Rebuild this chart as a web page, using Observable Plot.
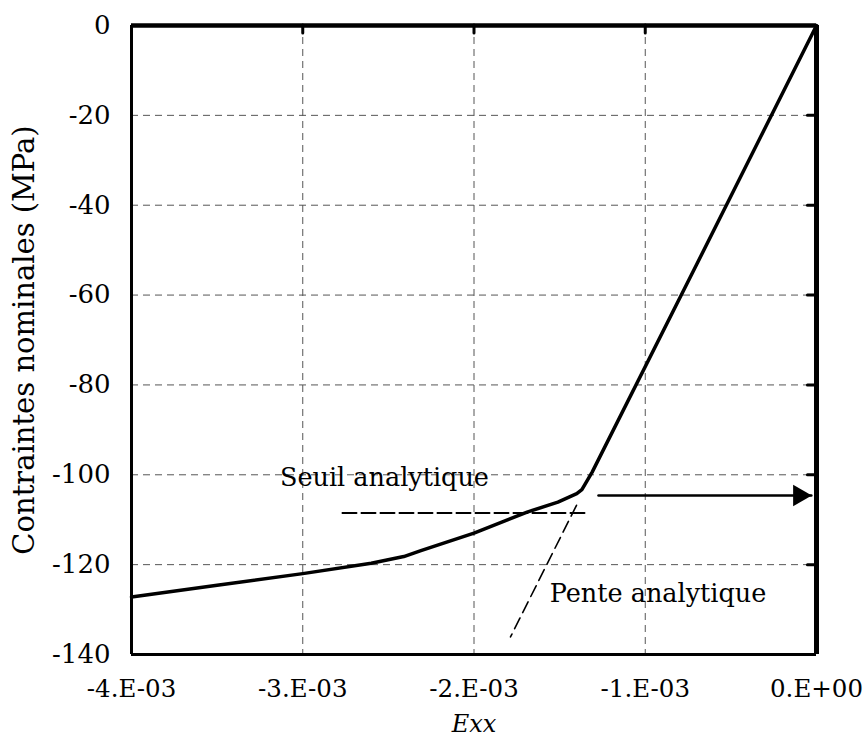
<!DOCTYPE html>
<html><head><meta charset="utf-8">
<script src="https://cdn.jsdelivr.net/npm/d3@7"></script>
<script src="https://cdn.jsdelivr.net/npm/@observablehq/plot@0.6"></script>
<style>body{margin:0;background:#fff}</style>
</head><body><div id="chart"></div>
<script>
// Main curve: strain Exx vs nominal stress (MPa)
const strain = [-0.0040, -0.0035, -0.0030, -0.0026, -0.00241, -0.00231, -0.0020, -0.00169, -0.00151, -0.00140, -0.00137, -0.00131, -0.0007, 0];
const stress = [-127.2, -124.6, -122.0, -119.7, -118.2, -116.9, -113.0, -108.3, -106.1, -104.2, -103.3, -99.4, -53.2, 0];

// Axis ticks
const xTicks = [-0.004, -0.003, -0.002, -0.001, 0];
const xTickLabels = ["-4.E-03", "-3.E-03", "-2.E-03", "-1.E-03", "0.E+00"];
const yTicks = [-140, -120, -100, -80, -60, -40, -20, 0];

// Analytical threshold (horizontal dashed)
const seuilX = [-0.002768, -0.001339];
const seuilY = [-108.5, -108.5];
// Analytical slope (dashed)
const penteX = [-0.0014015, -0.001787];
const penteY = [-106.8, -136.1];
// Arrow
const arrowX = [-0.001273, -0.00003];
const arrowY = [-104.6, -104.6];

// Annotations
const noteLabels = ["Seuil analytique", "Pente analytique"];
const noteX = [-0.002523, -0.0009255];
const noteY = [-100.6, -126.6];

const curve = strain.map((x, i) => ({x, y: stress[i]}));
const seuil = seuilX.map((x, i) => ({x, y: seuilY[i]}));
const pente = penteX.map((x, i) => ({x, y: penteY[i]}));
const arrow = arrowX.map((x, i) => ({x, y: arrowY[i]}));
const notes = noteLabels.map((label, i) => ({label, x: noteX[i], y: noteY[i]}));

const font = "DejaVu Serif";

const chart = Plot.plot({
  width: 863,
  height: 745,
  marginLeft: 131,
  marginRight: 47,
  marginTop: 25,
  marginBottom: 91,
  style: {fontFamily: font, fontSize: "24px", background: "#fff", color: "#000"},
  x: {domain: [-0.004, 0]},
  y: {domain: [-140, 0]},
  marks: [
    Plot.gridX(xTicks, {stroke: "#555", strokeOpacity: 1, strokeWidth: 1, strokeDasharray: "7,5"}),
    Plot.gridY(yTicks, {stroke: "#555", strokeOpacity: 1, strokeWidth: 1, strokeDasharray: "7,5"}),
    Plot.line(seuil, {x: "x", y: "y", stroke: "#000", strokeWidth: 2, strokeDasharray: "14,5"}),
    Plot.line(pente, {x: "x", y: "y", stroke: "#000", strokeWidth: 1.6, strokeDasharray: "12,6"}),
    Plot.line(curve, {x: "x", y: "y", stroke: "#000", strokeWidth: 3.5, strokeLinejoin: "round"}),
    Plot.line(arrow, {x: "x", y: "y", stroke: "#000", strokeWidth: 2.5}),
    Plot.dot([arrow[arrow.length - 1]], {x: "x", y: "y", symbol: "triangle", rotate: 90, r: 8, fill: "#000", stroke: "none", dx: -12}),
    // frame
    Plot.ruleX([-0.004], {stroke: "#000", strokeWidth: 3}),
    Plot.ruleY([-140], {stroke: "#000", strokeWidth: 3}),
    Plot.ruleY([0], {stroke: "#000", strokeWidth: 4.5}),
    Plot.ruleX([0], {stroke: "#000", strokeWidth: 5}),
    // inner ticks on top and right
    Plot.ruleX(xTicks.slice(1, -1), {y1: 0, y2: -1.8, stroke: "#000", strokeWidth: 3, strokeLinecap: "round"}),
    Plot.ruleY(yTicks.slice(1, -1), {x1: 0, x2: -0.00005, stroke: "#000", strokeWidth: 3, strokeLinecap: "round"}),
    Plot.axisX(xTicks, {tickSize: 0, tickPadding: 25, tickFormat: (d, i) => xTickLabels[i], fontSize: 24.5, label: null}),
    Plot.axisY(yTicks, {tickSize: 0, tickPadding: 21, fontSize: 26, label: null, tickFormat: d => String(d)}),
    Plot.text(notes, {x: "x", y: "y", text: "label", fontSize: 25.5, fill: "#000"}),
    Plot.text(["Exx"], {frameAnchor: "bottom", dy: 77, fontStyle: "italic", fontSize: 24, fill: "#000"}),
    Plot.text(["Contraintes nominales (MPa)"], {frameAnchor: "left", textAnchor: "middle", rotate: -90, dx: -107, fontSize: 29, fill: "#000"})
  ]
});
document.getElementById("chart").appendChild(chart);
</script>
</body></html>
